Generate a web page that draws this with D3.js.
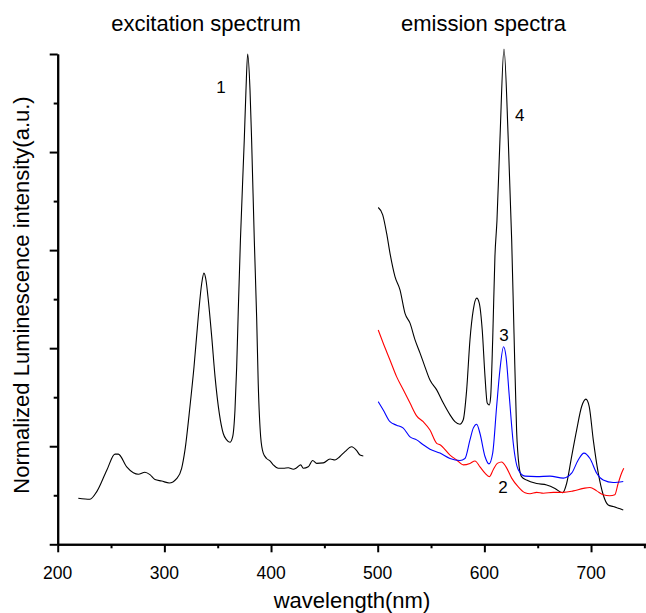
<!DOCTYPE html>
<html><head><meta charset="utf-8">
<script src="https://cdn.jsdelivr.net/npm/d3@7/dist/d3.min.js"></script>
<style>
html,body{margin:0;padding:0;background:#fff;}
svg{display:block;font-family:"Liberation Sans",Arial,Helvetica,sans-serif;}
</style></head>
<body>
<script>
// ---- data (wavelength nm, normalized intensity) ----
const excitation = [[219.3,0.094],[230.3,0.092],[236.5,0.107],[246,0.151],[253.7,0.184],[256.8,0.184],[264.7,0.158],[270.9,0.146],[275.6,0.143],[281.8,0.147],[286.5,0.142],[291.2,0.132],[297.5,0.129],[304.6,0.125],[311.5,0.134],[316.2,0.155],[319.3,0.192],[324.0,0.281],[327.8,0.362],[331.8,0.464],[335.0,0.532],[337.1,0.553],[339.0,0.539],[341.2,0.498],[344.4,0.423],[347.5,0.342],[351.5,0.267],[355.2,0.226],[358.4,0.213],[361.5,0.208],[364.0,0.219],[366.2,0.274],[367.8,0.362],[369.3,0.478],[371.3,0.620],[374.9,0.824],[376.5,0.926],[378.1,1.0],[380.3,0.926],[381.8,0.824],[384.3,0.621],[386.5,0.464],[388.0,0.328],[390.3,0.219],[392.7,0.186],[395.9,0.175],[399.0,0.170],[402.1,0.162],[406.8,0.155],[411.5,0.155],[416.2,0.156],[420.9,0.153],[424.0,0.156],[427.8,0.162],[430.2,0.155],[434.9,0.158],[439.0,0.171],[442.8,0.165],[449.0,0.166],[455.3,0.174],[460.0,0.172],[464.6,0.179],[469.3,0.189],[475.6,0.199],[480.3,0.191],[483.4,0.182],[486.5,0.180]];
const emission4 = [[500.5,0.687],[504.7,0.672],[508.4,0.634],[511.5,0.594],[516.2,0.546],[520.9,0.519],[525.6,0.471],[530.3,0.451],[535.0,0.417],[539.7,0.390],[544.3,0.362],[549.0,0.335],[555.3,0.315],[561.5,0.288],[567.8,0.264],[572.4,0.250],[577.1,0.245],[580.2,0.254],[583.4,0.315],[586.5,0.417],[589.6,0.478],[592.8,0.502],[595.2,0.492],[598.0,0.437],[600.6,0.342],[602.7,0.288],[604.6,0.284],[605.9,0.301],[607.8,0.417],[609.9,0.587],[611.8,0.660],[614.6,0.825],[618.4,1.010],[622.4,0.825],[625.6,0.621],[627.8,0.430],[630.2,0.233],[632.5,0.160],[634.9,0.138],[639.6,0.131],[649.0,0.124],[658.4,0.121],[666.2,0.114],[673.4,0.105],[677.1,0.124],[681.8,0.179],[686.5,0.233],[691.2,0.281],[695.2,0.296],[698.3,0.281],[702.1,0.213],[706.8,0.145],[711.4,0.101],[716.1,0.080],[720.8,0.077],[730.2,0.070]];
const emission3 = [[500.5,0.291],[505.2,0.274],[511.5,0.250],[517.7,0.243],[524.0,0.237],[530.3,0.219],[536.5,0.213],[542.7,0.203],[549.0,0.194],[558.4,0.186],[567.8,0.175],[577.1,0.171],[581.8,0.175],[586.5,0.213],[589.6,0.237],[592.8,0.245],[595.9,0.226],[600.6,0.179],[604.3,0.164],[607.8,0.186],[611.5,0.281],[614.6,0.356],[618.0,0.403],[620.3,0.383],[623.4,0.301],[627.1,0.206],[631.8,0.152],[638.1,0.139],[649.0,0.138],[661.5,0.139],[674.0,0.135],[681.8,0.145],[688.0,0.172],[693.4,0.186],[699.0,0.175],[705.3,0.145],[711.4,0.131],[720.8,0.126],[730.2,0.128]];
const emission2 = [[500.5,0.437],[505.2,0.410],[511.5,0.376],[517.7,0.342],[524.0,0.315],[530.3,0.288],[536.5,0.262],[542.7,0.250],[549.0,0.233],[555.3,0.206],[558.4,0.203],[567.8,0.182],[574.0,0.172],[580.2,0.162],[586.5,0.165],[591.2,0.170],[595.9,0.158],[600.6,0.145],[604.6,0.138],[608.3,0.152],[612.1,0.165],[616.2,0.168],[620.3,0.158],[625.6,0.135],[631.8,0.117],[638.1,0.105],[642.8,0.103],[649.0,0.106],[655.3,0.104],[664.7,0.106],[674.0,0.106],[683.4,0.109],[692.7,0.114],[699.0,0.116],[705.3,0.109],[711.4,0.101],[717.6,0.099],[722.3,0.101],[725.4,0.124],[728.6,0.145],[730.7,0.155]];
const xMajorTicks = [200,300,400,500,600,700];
const xMinorTicks = [250,350,450,550,650,750];
const yMajorTicks = [0,0.2,0.4,0.6,0.8,1.0];
const yMinorTicks = [0.1,0.3,0.5,0.7,0.9];
const xTickLabels = ["200","300","400","500","600","700"];
const titles = ["excitation spectrum","emission spectra"];
const curveLabels = ["1","4","3","2"];

const W=646,H=613;
const svg = d3.select("body").append("svg").attr("width",W).attr("height",H);
const x = d3.scaleLinear().domain([200,800]).range([57.7,697.7]);
const y = d3.scaleLinear().domain([0,1]).range([544.3,54]);

// axes
const gx = svg.append("g").attr("transform",`translate(0,${y(0)})`);
gx.call(d3.axisBottom(x).tickValues(xMajorTicks).tickSize(8).tickSizeOuter(0).tickFormat(""));
gx.append("g").call(d3.axisBottom(x).tickValues(xMinorTicks).tickSize(4).tickSizeOuter(0).tickFormat(""));
const gy = svg.append("g").attr("transform",`translate(${x(200)},0)`);
gy.call(d3.axisLeft(y).tickValues(yMajorTicks).tickSize(8).tickSizeOuter(0).tickFormat(""));
gy.append("g").call(d3.axisLeft(y).tickValues(yMinorTicks).tickSize(4).tickSizeOuter(0).tickFormat(""));
svg.selectAll(".domain, .tick line").attr("stroke","#000").attr("stroke-width",2);

svg.selectAll("text.xt").data(xMajorTicks).enter().append("text")
  .attr("class","xt").attr("x",d=>x(d)).attr("y",579.3).attr("text-anchor","middle")
  .attr("font-size","17.5px").attr("fill","#000").text((d,i)=>xTickLabels[i]);

// lines
const line = d3.line().x(d=>x(d[0])).y(d=>y(d[1])).curve(d3.curveMonotoneX);
const series = [[excitation,"#000"],[emission4,"#000"],[emission2,"#ff0000"],[emission3,"#0000ff"]];
series.forEach(([data,col])=>{
  svg.append("path").datum(data).attr("d",line).attr("fill","none").attr("stroke",col).attr("stroke-width",1.1);
});

// labels
svg.append("text").attr("x",206).attr("y",31).attr("text-anchor","middle").attr("font-size","22px").text(titles[0]);
svg.append("text").attr("x",483.5).attr("y",31).attr("text-anchor","middle").attr("font-size","22px").text(titles[1]);
const lblPos = [[221,92.7],[519.7,121],[504,340.7],[503,493.3]];
curveLabels.forEach((t,i)=>{
  svg.append("text").attr("x",lblPos[i][0]).attr("y",lblPos[i][1]).attr("text-anchor","middle").attr("font-size","17px").text(t);
});
svg.append("text").attr("x",352).attr("y",608).attr("text-anchor","middle").attr("font-size","22px").text("wavelength(nm)");
svg.append("text").attr("transform","translate(29,295) rotate(-90)").attr("text-anchor","middle").attr("font-size","22px").text("Normalized Luminescence intensity(a.u.)");
</script>
</body></html>
